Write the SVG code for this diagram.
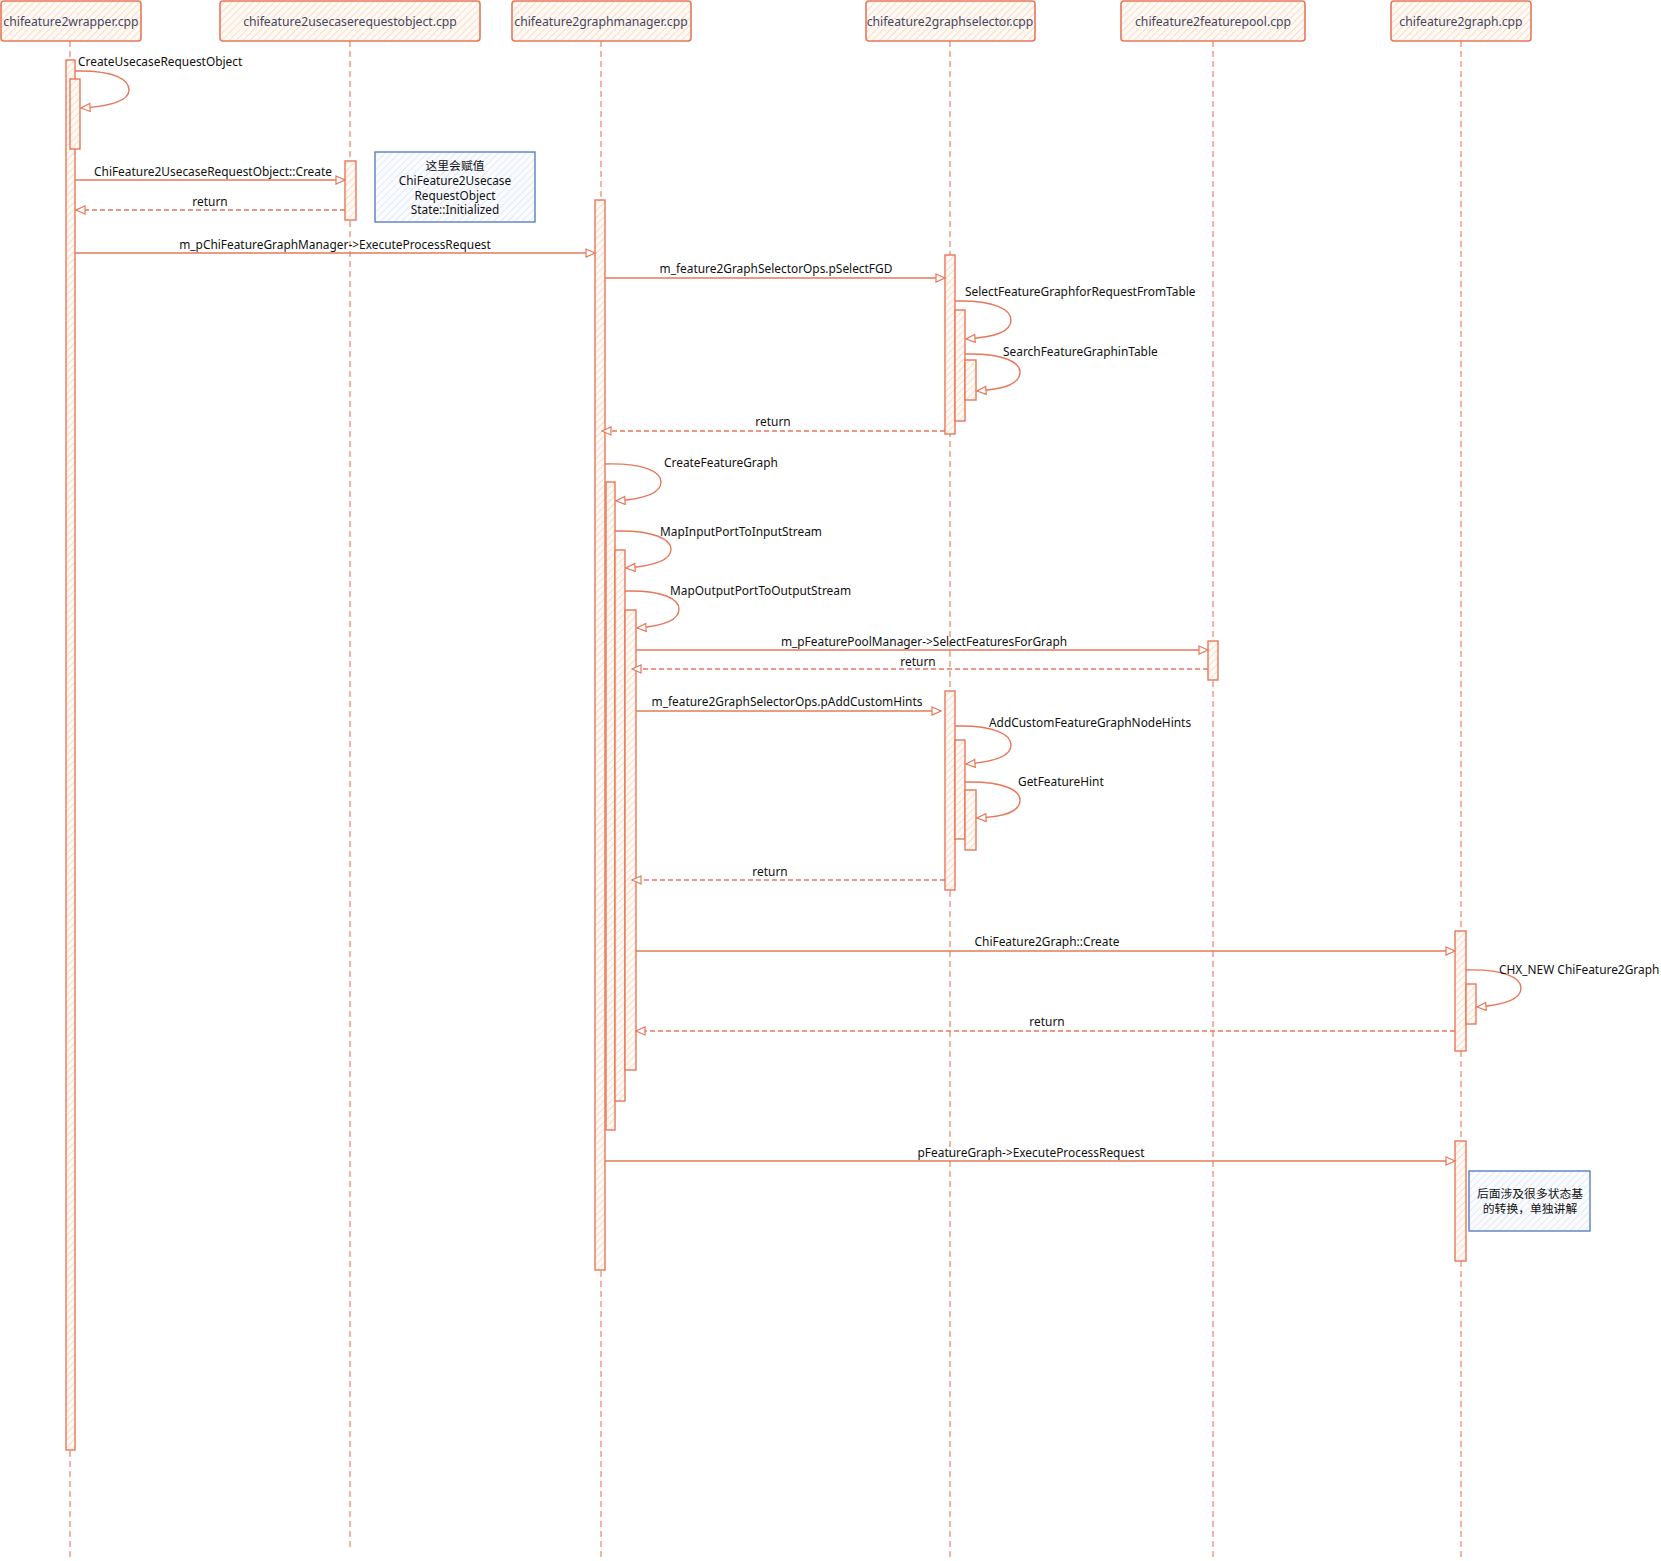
<svg xmlns="http://www.w3.org/2000/svg" width="1661" height="1561" viewBox="0 0 1661 1561">
<style>
.hdr{fill:url(#hatch);stroke:#e8775a;stroke-width:1.6}
.hdrt{font-family:"Noto Sans","Liberation Sans",sans-serif;font-size:12.2px;fill:#44465f;text-anchor:middle}
.life{stroke:#e8775a;stroke-width:1.1;stroke-dasharray:6 4;fill:none}
.bar{fill:url(#hatch);stroke:#e8775a;stroke-width:1.4}
.msg{stroke:#e8775a;stroke-width:1.4;fill:none;marker-end:url(#arr)}
.ret{stroke:#e8775a;stroke-width:1.3;fill:none;stroke-dasharray:5 3;marker-end:url(#arr)}
.lbl{font-family:"Noto Sans","Liberation Sans",sans-serif;font-size:11.9px;fill:#111}
.mid{text-anchor:middle}
.note{fill:url(#bhatch);stroke:#5a7fc2;stroke-width:1.4}
.nt{font-family:"Noto Sans","Noto Sans CJK SC",sans-serif;font-size:11.8px;fill:#111;text-anchor:middle}
</style>
<defs>
<pattern id="hatch" patternUnits="userSpaceOnUse" width="5" height="5" patternTransform="rotate(45)">
<rect width="5" height="5" fill="#fffaf5"/>
<line x1="0" y1="0" x2="0" y2="5" stroke="#f7c9a6" stroke-width="1.2"/>
</pattern>
<pattern id="bhatch" patternUnits="userSpaceOnUse" width="5" height="5" patternTransform="rotate(45)">
<rect width="5" height="5" fill="#fbfcff"/>
<line x1="0" y1="0" x2="0" y2="5" stroke="#c9d7ef" stroke-width="1"/>
</pattern>
<marker id="arr" markerWidth="12" markerHeight="12" refX="10" refY="5" orient="auto" markerUnits="userSpaceOnUse">
<path d="M1,1 L10,5 L1,9 Z" fill="#fff" stroke="#e8775a" stroke-width="1.2"/>
</marker>
</defs>
<rect width="1661" height="1561" fill="#fff"/>

<g id="lifelines">
<line class="life" x1="70" y1="41" x2="70" y2="1561"/>
<line class="life" x1="350" y1="41" x2="350" y2="1550"/>
<line class="life" x1="601" y1="41" x2="601" y2="1561"/>
<line class="life" x1="950" y1="41" x2="950" y2="1561"/>
<line class="life" x1="1213" y1="41" x2="1213" y2="1561"/>
<line class="life" x1="1461" y1="41" x2="1461" y2="1561"/>
</g>

<g id="node-wrapper">
<rect class="hdr" x="1" y="1" width="140" height="40" rx="3"/>
<text class="hdrt" x="71" y="26">chifeature2wrapper.cpp</text>
</g>
<g id="node-usecase">
<rect class="hdr" x="220" y="1" width="260" height="40" rx="3"/>
<text class="hdrt" x="350" y="26">chifeature2usecaserequestobject.cpp</text>
</g>
<g id="node-graphmanager">
<rect class="hdr" x="512" y="1" width="179" height="40" rx="3"/>
<text class="hdrt" x="601" y="26">chifeature2graphmanager.cpp</text>
</g>
<g id="node-graphselector">
<rect class="hdr" x="866" y="1" width="169" height="40" rx="3"/>
<text class="hdrt" x="950" y="26">chifeature2graphselector.cpp</text>
</g>
<g id="node-featurepool">
<rect class="hdr" x="1121" y="1" width="184" height="40" rx="3"/>
<text class="hdrt" x="1213" y="26">chifeature2featurepool.cpp</text>
</g>
<g id="node-graph">
<rect class="hdr" x="1391" y="1" width="140" height="40" rx="3"/>
<text class="hdrt" x="1461" y="26">chifeature2graph.cpp</text>
</g>

<g id="activations">
<rect class="bar" x="66" y="60" width="9" height="1390"/>
<rect class="bar" x="70" y="79" width="10" height="70"/>
<rect class="bar" x="345" y="161" width="11" height="59"/>
<rect class="bar" x="595" y="200" width="10" height="1070"/>
<rect class="bar" x="606" y="482" width="9" height="648"/>
<rect class="bar" x="615" y="550" width="10" height="551"/>
<rect class="bar" x="625" y="610" width="11" height="460"/>
<rect class="bar" x="945" y="255" width="10" height="179"/>
<rect class="bar" x="955" y="310" width="10" height="111"/>
<rect class="bar" x="965" y="360" width="11" height="40"/>
<rect class="bar" x="1208" y="641" width="10" height="39"/>
<rect class="bar" x="945" y="691" width="10" height="199"/>
<rect class="bar" x="955" y="740" width="10" height="99"/>
<rect class="bar" x="965" y="790" width="11" height="60"/>
<rect class="bar" x="1455" y="931" width="11" height="120"/>
<rect class="bar" x="1466" y="984" width="10" height="40"/>
<rect class="bar" x="1455" y="1141" width="11" height="120"/>
</g>

<g id="connectors">
<path class="msg" d="M75,71 C115,70 129,80 129,90 C129,100 115,106 81,108"/>
<path class="msg" d="M75,180 L345,180"/>
<path class="ret" d="M345,210 L76,210"/>
<path class="msg" d="M75,253 L595,253"/>
<path class="msg" d="M605,278 L945,278"/>
<path class="msg" d="M955,301 C995,300 1011,310 1011,320 C1011,332 995,337 966,339"/>
<path class="msg" d="M965,354 C1005,353 1020,363 1020,372 C1020,384 1005,389 977,391"/>
<path class="ret" d="M945,431 L602,431"/>
<path class="msg" d="M605,464 C645,463 661,472 661,482 C661,493 645,499 616,501"/>
<path class="msg" d="M615,531 C655,530 671,540 671,549 C671,560 655,566 626,568"/>
<path class="msg" d="M625,591 C665,590 679,600 679,609 C679,620 665,626 637,628"/>
<path class="msg" d="M636,650 L1208,650"/>
<path class="ret" d="M1208,669 L632,669"/>
<path class="msg" d="M636,711 L941,711"/>
<path class="msg" d="M955,726 C995,725 1011,735 1011,745 C1011,756 995,762 966,764"/>
<path class="msg" d="M965,782 C1005,781 1020,791 1020,800 C1020,812 1005,817 977,818"/>
<path class="ret" d="M945,880 L632,880"/>
<path class="msg" d="M636,951 L1455,951"/>
<path class="msg" d="M1466,970 C1505,969 1521,978 1521,988 C1521,999 1505,1005 1477,1007"/>
<path class="ret" d="M1455,1031 L636,1031"/>
<path class="msg" d="M605,1161 L1455,1161"/>
</g>

<g id="labels">
<text class="lbl" x="78" y="66">CreateUsecaseRequestObject</text>
<text class="lbl mid" x="213" y="176">ChiFeature2UsecaseRequestObject::Create</text>
<text class="lbl mid" x="210" y="206">return</text>
<text class="lbl mid" x="335" y="249">m_pChiFeatureGraphManager-&gt;ExecuteProcessRequest</text>
<text class="lbl mid" x="776" y="273">m_feature2GraphSelectorOps.pSelectFGD</text>
<text class="lbl" x="965" y="296">SelectFeatureGraphforRequestFromTable</text>
<text class="lbl" x="1003" y="356">SearchFeatureGraphinTable</text>
<text class="lbl mid" x="773" y="426">return</text>
<text class="lbl" x="664" y="467">CreateFeatureGraph</text>
<text class="lbl" x="660" y="536">MapInputPortToInputStream</text>
<text class="lbl" x="670" y="595">MapOutputPortToOutputStream</text>
<text class="lbl mid" x="924" y="646">m_pFeaturePoolManager-&gt;SelectFeaturesForGraph</text>
<text class="lbl mid" x="918" y="666">return</text>
<text class="lbl mid" x="787" y="706">m_feature2GraphSelectorOps.pAddCustomHints</text>
<text class="lbl" x="989" y="727">AddCustomFeatureGraphNodeHints</text>
<text class="lbl" x="1018" y="786">GetFeatureHint</text>
<text class="lbl mid" x="770" y="876">return</text>
<text class="lbl mid" x="1047" y="946">ChiFeature2Graph::Create</text>
<text class="lbl" x="1499" y="974">CHX_NEW ChiFeature2Graph</text>
<text class="lbl mid" x="1047" y="1026">return</text>
<text class="lbl mid" x="1031" y="1157">pFeatureGraph-&gt;ExecuteProcessRequest</text>
</g>

<g id="note-1">
<rect class="note" x="375" y="152" width="160" height="70"/>
<text class="nt" x="455" y="170">这里会赋值</text>
<text class="nt" x="455" y="185">ChiFeature2Usecase</text>
<text class="nt" x="455" y="200">RequestObject</text>
<text class="nt" x="455" y="214">State::Initialized</text>
</g>
<g id="note-2">
<rect class="note" x="1469" y="1171" width="121" height="60"/>
<text class="nt" x="1530" y="1198">后面涉及很多状态基</text>
<text class="nt" x="1530" y="1213">的转换，单独讲解</text>
</g>
</svg>
